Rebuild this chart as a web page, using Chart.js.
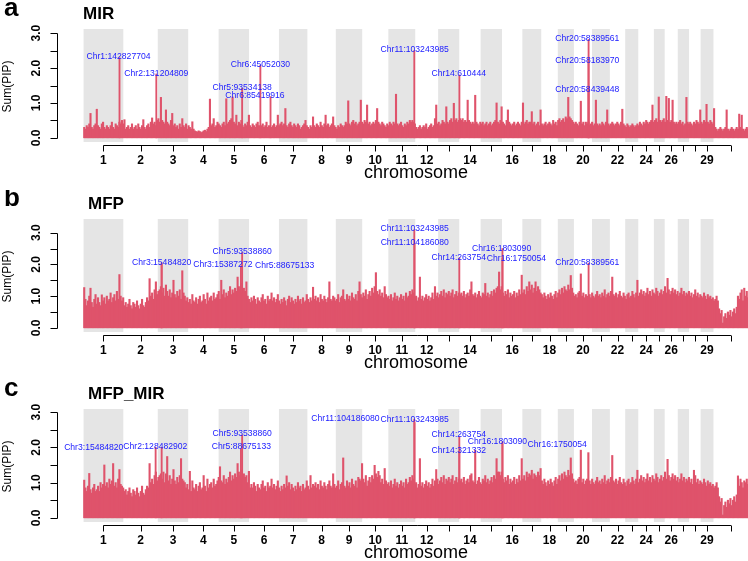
<!DOCTYPE html>
<html><head><meta charset="utf-8">
<script src="https://cdn.jsdelivr.net/npm/chart.js@4.4.1/dist/chart.umd.min.js"></script>
<style>
html,body{margin:0;padding:0;width:748px;height:561px;overflow:hidden;background:#fff}
canvas{position:absolute;left:0}
</style></head><body>
<canvas id="ca" width="775" height="190" style="top:0px"></canvas>
<canvas id="cb" width="775" height="190" style="top:190px"></canvas>
<canvas id="cc" width="775" height="190" style="top:380px"></canvas>
<script>
// ---------------- data ----------------
const chromosomes = ['1','2','3','4','5','6','7','8','9','10','11','12','13','14','15','16','17','18','19','20','21','22','23','24','25','26','27','28','29','30'];
const chromLengthsMb = [158,137,121,121,121,119,113,113,105,104,107,91,84,85,85,81,75,66,64,72,71,61,52,62,43,52,45,46,51,139];
const xTickLabels = ['1','2','3','4','5','6','7','8','9','10','11','12','','14','','16','','18','','20','','22','','24','','26','','','29',''];
const yTicks = [0,0.5,1,1.5,2,2.5,3];
const yTickLabels = ['0.0','','1.0','','2.0','','3.0'];
const binSizeMb = 5;

// max Sum(PIP) per 5 Mb window along the genome
const mirValues = [
.3,.25,.35,.3,.4,.7,.3,.25,.35,.4,
.82,.35,.3,.25,.4,.45,.3,.25,.35,.3,
.25,.35,.45,.3,.25,.4,.35,.3,.45,.4,
.5,.4,.52,.25,.3,.35,.25,.3,.4,.25,
.3,.35,.25,.4,.3,.25,.35,.52,.3,.25,
.35,.4,.3,.45,.57,.4,.45,.35,.5,.55,
.45,1.16,.5,.45,.4,.8,.45,.4,.35,.5,
.7,.35,.4,.3,.35,.25,.4,.3,.55,.35,
.3,.4,.25,.35,.3,.25,.46,.25,.2,.18,
.17,.2,.18,.15,.17,.2,.22,.18,.25,.3,
1.11,.35,.4,.55,.3,.35,.45,.4,.35,.3,
.4,.45,.35,1.12,.4,.45,.5,.55,1.17,.45,
.4,.65,.35,.45,.4,.5,.35,.3,.4,.35,
.45,.65,.35,.3,.4,.35,.3,.4,.45,.35,
.3,.35,.4,.3,.35,.45,.3,.35,.25,.3,
.35,.4,.3,.35,.65,.35,.4,.45,.35,.4,
.84,.35,.3,.4,.45,.35,.3,.4,.35,.3,
.4,.35,.25,.3,.35,.4,.5,.35,.3,.25,
.35,.3,.6,.35,.3,.4,.35,.3,.45,.35,
.3,.4,.65,.35,.4,.3,.35,.4,.6,.35,
.3,.25,.35,.3,.4,.35,.3,.35,.45,.4,
1.06,.4,.35,.45,.5,.4,.45,.35,.4,.45,
1.08,.45,.4,.5,.45,.94,.4,.45,.35,.4,
.45,.4,.5,.84,.45,.4,.35,.45,.4,.35,
.3,.4,.35,.45,.4,.35,.45,.4,1.25,.4,
.35,.4,.45,.35,.3,.4,.35,.45,.4,.5,
.45,.5,.45,.4,.3,.25,.3,.35,.25,.3,
.35,.3,.4,.25,.3,.35,.4,.3,.35,.55,
.94,.4,.45,.35,.4,.5,.45,.4,.89,.45,
.4,.5,.55,.45,.99,.5,.55,.45,.5,.55,
.5,.55,.45,.5,.45,1.08,.5,.45,.4,.45,
.4,1.22,.45,.4,.35,.45,.4,.45,.35,.4,
.45,.35,.4,.45,.35,.4,.45,.5,1.0,.45,
.4,.5,.89,.45,.4,.35,.5,.8,.45,.4,
.35,.4,.45,.35,.4,.45,.4,.35,.45,1.0,
.4,.45,.5,.4,.45,.45,.75,.4,.45,.35,
.4,.45,.35,.8,.4,.35,.4,.45,.35,.4,
.45,.4,.35,.5,.4,.45,.35,.5,.55,.45,
.5,.55,.45,.6,.55,1.16,.6,.55,.5,.45,
.4,.45,.4,.35,.45,1.05,.4,.45,.35,.45,
.4,.45,.35,.4,.45,.35,.4,1.08,.4,.35,
.4,.35,.45,.4,.35,.45,.8,.4,.35,.4,
.45,.4,.35,.4,.45,.4,.35,.45,.82,.4,
.35,.3,.4,.35,.3,.35,.4,.35,.3,.35,
.4,.35,.45,.4,.35,.45,.4,.5,.45,.4,
.45,.5,.94,.45,.5,.55,.45,1.17,.5,.45,
.5,.55,.45,1.19,.5,1.13,.45,.5,1.08,.45,
.4,.45,.4,.45,.5,.4,.45,.35,.4,1.16,
.45,.4,.45,.4,.35,.45,.4,.5,.45,.4,
.8,.45,.4,.5,.45,.96,.45,.4,.5,.45,
.4,.84,.3,.25,.2,.25,.3,.25,.2,.25,
.3,.8,.25,.2,.25,.3,.25,.2,.25,.3,
.25,.68,.3,.65,.25,.2,.25,.3,.25
];

const mfpValues = [
1.27,.9,.7,.85,1.0,1.25,.8,.65,.9,1.05,
.75,.95,.8,.7,1.04,.85,.95,.75,1.0,.85,
.9,1.1,.8,.95,1.05,.85,1.15,.9,1.68,1.0,
.85,.95,.7,.8,.65,.75,.9,.7,.6,.8,
.75,.65,.85,.7,.6,.75,.9,.7,.65,.8,
.95,.85,1.55,1.0,1.1,.9,1.2,1.45,1.05,1.15,
1.2,1.3,1.1,1.25,1.0,1.35,1.15,1.0,1.2,.95,
1.1,1.5,1.05,.95,1.15,1.0,1.2,.9,1.8,1.1,
1.0,.85,.95,.8,.9,.75,1.05,.85,.8,.95,
.75,.9,1.0,.8,.85,1.05,.9,.75,1.1,.85,
.95,1.0,.85,1.1,.9,.95,1.05,1.15,.9,1.5,
1.05,1.2,.95,1.1,1.0,1.15,1.3,1.05,1.2,1.1,
1.25,1.15,1.6,1.3,1.2,1.4,1.1,1.25,1.15,1.45,
1.0,.9,.8,.95,.85,1.0,.9,.75,.95,.85,
.8,.95,1.05,.85,.9,.75,1.0,.85,.9,1.1,
.85,.95,.8,.9,1.05,.85,.75,.9,.8,.95,
.85,.7,.9,1.0,.8,.95,.85,.75,.9,.8,
1.0,.85,.9,.75,.95,.8,.85,1.05,.9,.8,
.95,.85,1.28,.9,1.0,.85,.95,.8,1.05,.9,
.85,1.0,.9,.8,.95,1.45,.9,.85,1.0,.95,
.85,.9,1.05,.8,.95,1.0,1.2,.9,.85,1.05,
.9,1.0,.85,1.1,.95,.9,1.05,.85,1.15,1.45,
1.05,.95,1.1,1.0,1.2,.9,1.05,1.15,1.0,1.25,
1.1,1.3,1.74,1.15,1.05,1.2,1.0,1.1,.95,1.3,
1.05,.95,1.0,.9,1.05,.85,.95,1.1,.9,1.0,
.85,.95,1.05,.9,1.0,.85,1.1,.95,1.0,1.15,
1.05,1.2,1.1,.95,1.0,.85,.95,1.6,.9,1.0,
.85,.95,1.05,.9,1.0,.85,.95,1.1,.9,1.3,
1.0,1.1,.95,1.05,1.15,1.0,1.2,.95,1.1,1.05,
1.15,1.0,1.1,1.2,.95,1.05,1.15,1.0,1.1,1.05,
1.1,1.0,1.15,.95,1.05,1.1,1.0,1.2,1.45,1.05,
1.0,1.1,.95,1.05,1.15,1.0,.95,1.1,1.05,1.4,
1.0,1.1,.95,1.05,1.15,1.0,1.2,1.1,1.25,1.3,
1.76,1.2,1.3,1.1,1.0,1.15,1.05,1.2,.95,1.1,
1.0,1.05,1.15,.95,1.1,1.0,1.2,1.05,1.66,1.1,
1.2,1.05,1.3,1.15,1.45,1.2,1.35,1.1,1.25,1.45,
1.15,1.3,1.2,1.1,1.05,.95,1.1,1.0,.9,1.05,
.95,1.1,1.0,.9,1.05,1.15,.95,1.1,1.2,1.05,
1.25,1.1,1.3,1.2,1.15,1.35,1.2,1.65,1.25,1.1,
1.0,1.05,.95,1.1,1.15,1.7,1.0,1.1,.95,1.05,
1.0,.9,1.05,.95,1.1,1.0,.95,1.05,1.15,1.0,
1.05,.95,1.1,1.0,1.2,.95,1.05,1.1,1.0,1.15,
1.6,1.05,1.0,1.1,.95,1.05,1.15,1.0,.95,1.1,
1.0,.9,1.05,1.1,.95,1.0,1.15,1.05,.95,1.1,
1.5,1.0,1.1,1.2,1.05,1.15,1.0,1.1,1.25,1.05,
1.15,1.0,1.2,1.1,1.05,1.25,1.15,1.0,1.1,1.2,
1.05,1.15,1.3,1.1,1.56,1.2,1.05,1.15,1.25,1.1,
1.2,1.05,1.15,1.0,1.1,1.25,1.05,1.15,1.0,1.1,
1.05,1.15,1.0,1.1,.95,1.05,1.2,1.0,1.1,.95,
1.05,1.0,.95,1.1,1.0,.9,1.05,.95,1.0,.9,
.95,.85,.9,1.0,.85,.6,.45,.55,.15,.35,
.45,.3,.5,.4,.55,.35,.5,.6,.45,.65,
1.0,.9,1.1,1.2,.85,1.25,1.0,1.15,.95
];

const mfpMirValues = [
1.07,.85,.75,.9,1.26,.8,.7,.85,.95,.75,
.8,.9,.75,1.0,.85,.95,1.5,.9,1.0,.85,
1.1,.95,1.05,1.54,.9,1.0,.85,1.1,1.37,.95,
.9,.85,.75,.8,.65,.75,.85,.7,.6,.8,
.75,.65,.85,.7,.6,.75,.9,.7,.65,.8,
.9,.85,1.54,1.0,1.1,.95,1.2,1.3,1.05,1.15,
1.2,1.25,1.1,1.3,1.0,1.25,1.74,1.05,1.2,.95,
1.1,1.37,1.05,.95,1.15,1.0,1.2,1.68,1.1,1.05,
1.0,.85,.95,.8,1.32,.75,1.05,.85,.8,.95,
.75,.9,1.0,.8,.85,1.2,.9,.75,1.1,.85,
.95,1.0,.85,1.1,.9,.95,1.05,1.15,1.45,1.05,
1.0,1.2,.95,1.1,1.0,1.15,1.3,1.05,1.2,1.1,
1.25,1.15,1.54,1.3,1.2,1.35,1.1,1.25,1.15,1.2,
1.0,1.32,.85,.95,.85,1.0,.9,.75,.95,.85,
.8,.95,1.05,.85,.9,.75,1.0,.85,.9,1.1,
.85,.95,.8,.9,1.05,.85,.75,.9,.8,.95,
.85,1.19,.9,1.0,.8,.95,.85,.75,.9,.8,
1.0,.85,.9,.75,.95,.8,.85,1.05,.9,.8,
1.2,.85,.95,.9,1.0,.85,.95,.8,1.05,.9,
.85,1.0,.9,.8,.95,1.05,.9,.85,1.25,.95,
.85,.9,1.05,.8,.95,1.0,1.7,.9,.85,1.05,
.9,1.0,.85,1.1,.95,.9,1.05,.85,1.15,1.1,
1.05,1.54,1.1,1.0,1.2,.9,1.05,1.15,1.0,1.2,
1.1,1.49,1.25,1.15,1.32,1.2,1.0,1.1,.95,1.4,
1.05,.95,1.0,.9,1.05,.85,.95,1.1,.9,1.0,
.85,.95,1.05,.9,1.0,.85,1.1,.95,1.0,1.15,
1.05,1.2,1.1,.95,1.0,.85,.95,1.68,.9,1.0,
.85,.95,1.05,.9,1.0,.85,.95,1.1,.9,1.05,
1.37,1.1,.95,1.05,1.15,1.0,1.2,.95,1.1,1.05,
1.15,1.0,1.1,1.2,.95,1.05,1.15,1.0,1.1,1.05,
1.1,1.0,1.15,.95,1.05,1.1,1.0,1.2,1.25,1.05,
1.0,1.92,.95,1.05,1.15,1.0,.95,1.1,1.05,1.2,
1.0,1.1,.95,1.05,1.15,1.0,1.2,1.1,1.68,1.3,
1.3,1.2,1.3,1.1,1.0,1.15,1.05,1.2,.95,1.1,
1.0,1.05,1.15,.95,1.1,1.0,1.2,1.05,1.68,1.1,
1.2,1.05,1.3,1.15,1.25,1.2,1.35,1.1,1.25,1.2,
1.15,1.3,1.2,1.4,1.05,.95,1.1,1.0,.9,1.05,
.95,1.1,1.0,.9,1.05,1.15,.95,1.1,1.2,1.05,
1.25,1.1,1.3,1.2,1.15,1.35,1.2,1.7,1.25,1.1,
1.0,1.05,.95,1.1,1.15,1.92,1.0,1.1,.95,1.05,
1.1,1.85,1.05,.95,1.1,1.0,.95,1.05,1.15,1.0,
1.05,.95,1.1,1.0,1.2,.95,1.05,1.1,1.0,1.15,
1.77,1.05,1.0,1.1,.95,1.05,1.15,1.0,.95,1.1,
1.0,.9,1.05,1.1,.95,1.0,1.15,1.05,.95,1.1,
1.35,1.0,1.1,1.2,1.05,1.15,1.0,1.1,1.25,1.05,
1.15,1.0,1.2,1.1,1.05,1.25,1.15,1.0,1.1,1.2,
1.05,1.15,1.3,1.1,1.66,1.2,1.05,1.15,1.25,1.1,
1.2,1.05,1.15,1.0,1.1,1.25,1.05,1.15,1.0,1.1,
1.05,1.15,1.0,1.1,.95,1.35,1.2,1.0,1.1,.95,
1.05,1.0,.95,1.1,1.0,.9,1.05,.95,1.0,.9,
.95,.85,.9,1.0,.85,.6,.45,.55,.08,.35,
.45,.3,.5,.4,.55,.35,.5,.6,.45,.65,
1.19,.9,1.1,1.0,.85,1.05,1.0,1.1,.95
];

// labelled top signals: [label (Chr:position in bp), Sum(PIP)]
const mirPeaks = [
 ['Chr1:142827704',2.30],['Chr2:131204809',1.83],['Chr6:45052030',2.08],['Chr5:93534138',1.42],
 ['Chr6:85419916',1.18],['Chr11:103243985',2.50],['Chr14:610444',1.80],['Chr20:58389561',2.82],
 ['Chr20:58183970',2.20],['Chr20:58439448',1.37]
];
const mfpPeaks = [
 ['Chr3:15484820',2.05],['Chr3:15387272',2.00],['Chr5:93538860',2.37],['Chr5:88675133',1.95],
 ['Chr11:103243985',3.09],['Chr11:104186080',2.65],['Chr14:263754',2.20],['Chr16:1803090',2.50],
 ['Chr16:1750054',2.19],['Chr20:58389561',2.04]
];
const mfpMirPeaks = [
 ['Chr3:15484820',2.00],['Chr2:128482902',2.00],['Chr5:93538860',2.35],['Chr5:88675133',1.95],
 ['Chr11:104186080',2.70],['Chr11:103243985',2.80],['Chr14:263754',2.30],['Chr14:321332',1.90],
 ['Chr16:1803090',2.16],['Chr16:1750054',2.10]
];

// label placement (layout only): [horizontal shift in px, label height in Sum(PIP) units]
const mirLabelLayout = [[-1,2.34],[0,1.85],[0,2.11],[0,1.43],[-15.6,1.22],[0.4,2.52],[-0.7,1.83],[-1.3,2.84],[-1.2,2.21],[-1.3,1.37]];
const mfpLabelLayout = [[0,2.07],[61.2,2.0],[0,2.4],[43.7,1.97],[0.4,3.12],[0.2,2.68],[-0.6,2.22],[-0.9,2.51],[14,2.19],[-1.3,2.07]];
const mfpMirLabelLayout = [[-67.9,1.98],[-0.3,2.03],[0,2.39],[0.4,2.01],[-69.1,2.81],[0.4,2.78],[-0.6,2.35],[-0.6,1.91],[-5,2.15],[54.8,2.08]];

// ---------------- drawing ----------------
const FONT = '"Liberation Sans", Arial, Helvetica, sans-serif';
const RED = '#DF536B';
const chromStarts = [];
chromLengthsMb.reduce((s, l) => { chromStarts.push(s); return s + l; }, 0);
const genomeMb = chromLengthsMb.reduce((a, b) => a + b, 0);

function peakX(label) {
  const m = label.match(/^Chr(\d+):(\d+)$/);
  return chromStarts[parseInt(m[1], 10) - 1] + parseInt(m[2], 10) / 1e6;
}

function makePanel(canvasId, letter, title, titleX, values, peaks, layout, ylim) {
  const bandsPlugin = {
    id: 'bands',
    beforeDatasetsDraw(chart) {
      const { ctx, chartArea: a, scales: { x } } = chart;
      ctx.save();
      ctx.fillStyle = '#E5E5E5';
      chromLengthsMb.forEach((len, i) => {
        if (i % 2 !== 0) return;
        const x0 = x.getPixelForValue(chromStarts[i]);
        const x1 = x.getPixelForValue(chromStarts[i] + len);
        ctx.fillRect(x0, a.top, x1 - x0, a.bottom - a.top);
      });
      ctx.restore();
    }
  };
  const axesPlugin = {
    id: 'rAxes',
    afterDraw(chart) {
      const { ctx, chartArea: a, scales: { x, y } } = chart;
      ctx.save();
      ctx.strokeStyle = '#000'; ctx.fillStyle = '#000'; ctx.lineWidth = 1;
      // y axis
      const ax = Math.round(a.left) + 0.5;
      ctx.beginPath();
      ctx.moveTo(ax, Math.round(y.getPixelForValue(yTicks[0])) + 0.5);
      ctx.lineTo(ax, Math.round(y.getPixelForValue(yTicks[yTicks.length - 1])) + 0.5);
      yTicks.forEach(v => {
        const py = Math.round(y.getPixelForValue(v)) + 0.5;
        ctx.moveTo(ax, py); ctx.lineTo(ax - 7, py);
      });
      ctx.stroke();
      ctx.font = 'bold 12px ' + FONT;
      ctx.textAlign = 'center'; ctx.textBaseline = 'alphabetic';
      yTicks.forEach((v, i) => {
        if (!yTickLabels[i]) return;
        ctx.save();
        ctx.translate(a.left - 17, y.getPixelForValue(v));
        ctx.rotate(-Math.PI / 2);
        ctx.fillText(yTickLabels[i], 0, 0);
        ctx.restore();
      });
      // x axis
      const centers = chromLengthsMb.map((l, i) => chromStarts[i] + l / 2);
      const ay = Math.round(a.bottom + 3) + 0.5;
      ctx.beginPath();
      ctx.moveTo(x.getPixelForValue(centers[0]), ay);
      ctx.lineTo(x.getPixelForValue(centers[centers.length - 1]), ay);
      centers.forEach(c => {
        const px = Math.round(x.getPixelForValue(c)) + 0.5;
        ctx.moveTo(px, ay); ctx.lineTo(px, ay + 6);
      });
      ctx.stroke();
      centers.forEach((c, i) => {
        if (xTickLabels[i]) ctx.fillText(xTickLabels[i], x.getPixelForValue(c), a.bottom + 22);
      });
      // axis titles
      ctx.font = '18px ' + FONT;
      ctx.fillText('chromosome', (a.left + a.right) / 2, a.bottom + 36);
      ctx.save();
      ctx.font = '12px ' + FONT;
      ctx.translate(11, (a.top + a.bottom) / 2 + 1);
      ctx.rotate(-Math.PI / 2);
      ctx.fillText('Sum(PIP)', 0, 0);
      ctx.restore();
      // panel letter and title
      ctx.textAlign = 'left';
      ctx.font = 'bold 26px ' + FONT;
      ctx.fillText(letter, 4, 16);
      ctx.font = 'bold 17px ' + FONT;
      ctx.fillText(title, titleX, 19);
      // peak labels
      ctx.font = '8.6px ' + FONT;
      ctx.fillStyle = '#1a1aff';
      ctx.textAlign = 'center'; ctx.textBaseline = 'middle';
      peaks.forEach((p, i) => {
        const px = x.getPixelForValue(peakX(p[0])) + layout[i][0];
        ctx.fillText(p[0], px, y.getPixelForValue(layout[i][1]));
      });
      ctx.restore();
    }
  };
  new Chart(document.getElementById(canvasId), {
    type: 'bar',
    data: {
      datasets: [
        {
          data: values.map((v, i) => ({ x: (i + 0.5) * binSizeMb, y: v })),
          backgroundColor: RED, borderWidth: 0, barThickness: 1.45, grouped: false
        },
        {
          data: peaks.map(p => ({ x: peakX(p[0]), y: p[1] })),
          backgroundColor: RED, borderWidth: 0, barThickness: 1.2, grouped: false
        }
      ]
    },
    options: {
      responsive: false, animation: false, devicePixelRatio: 1,
      layout: { padding: { left: 57, right: 0, top: 29, bottom: 48 } },
      plugins: { legend: { display: false }, tooltip: { enabled: false } },
      scales: {
        x: { type: 'linear', display: false, offset: false, min: -0.04 * genomeMb, max: 1.04 * genomeMb },
        y: { type: 'linear', display: false, min: -0.04 * ylim, max: 1.04 * ylim }
      }
    },
    plugins: [bandsPlugin, axesPlugin]
  });
}

makePanel('ca', 'a', 'MIR', 83, mirValues, mirPeaks, mirLabelLayout, 3.0);
makePanel('cb', 'b', 'MFP', 88, mfpValues, mfpPeaks, mfpLabelLayout, 3.3);
makePanel('cc', 'c', 'MFP_MIR', 88, mfpMirValues, mfpMirPeaks, mfpMirLabelLayout, 2.97);
</script>
</body></html>
